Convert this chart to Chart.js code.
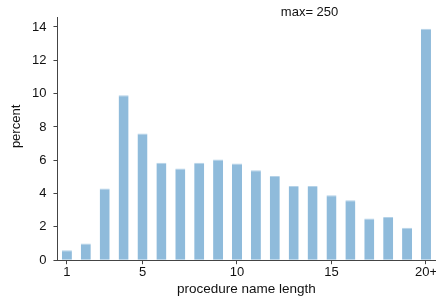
<!DOCTYPE html>
<html>
<head>
<meta charset="utf-8">
<script src="https://cdn.jsdelivr.net/npm/chart.js@4"></script>
<style>
  html, body { margin: 0; padding: 0; background: #fff; overflow: hidden; }
  #wrap { width: 437px; height: 300px; }
</style>
</head>
<body>
<div id="wrap"><canvas id="chart"></canvas></div>
<script>
const categories = ["1","2","3","4","5","6","7","8","9","10","11","12","13","14","15","16","17","18","19","20+"];
const percentValues = [0.6, 1.0, 4.3, 9.9, 7.6, 5.85, 5.5, 5.85, 6.05, 5.8, 5.4, 5.05, 4.45, 4.45, 3.9, 3.6, 2.5, 2.6, 1.95, 13.9];
const xTickLabels = ["1", "5", "10", "15", "20+"];
const yTickValues = [0, 2, 4, 6, 8, 10, 12, 14];
const noteText = "max= 250";
const yTitle = "percent";

const axisColor = "#444";
const fontFamily = "'Liberation Sans', Arial, sans-serif";
const font = { family: fontFamily, size: 13 };

// note above the plot and the y title (sits a bit above the axis middle in the original)
const textPlugin = {
  id: "texts",
  afterDraw(chart) {
    const ctx = chart.ctx;
    const a = chart.chartArea;
    ctx.save();
    ctx.font = "13px " + fontFamily;
    ctx.fillStyle = "#111";
    ctx.textAlign = "center";
    ctx.textBaseline = "middle";
    ctx.fillText(noteText, a.left + (a.right - a.left) * 0.667, 12);
    ctx.translate(16, a.top + (a.bottom - a.top) * 0.45);
    ctx.rotate(-Math.PI / 2);
    ctx.fillText(yTitle, 0, 0);
    ctx.restore();
  }
};

new Chart(document.getElementById("chart"), {
  type: "bar",
  data: {
    labels: categories,
    datasets: [{
      data: percentValues,
      backgroundColor: "#8fbbdb",
      borderColor: "#b4d2e8",
      borderWidth: { top: 1, left: 0, right: 0, bottom: 0 },
      borderSkipped: "bottom",
      barPercentage: 0.53,
      categoryPercentage: 1.0
    }]
  },
  options: {
    responsive: true,
    maintainAspectRatio: false,
    animation: false,
    layout: { padding: { top: 17, left: 25, right: 0, bottom: 3 } },
    plugins: {
      legend: { display: false },
      tooltip: { enabled: false }
    },
    scales: {
      x: {
        offset: true,
        grid: { display: true, drawOnChartArea: false, drawTicks: true, tickLength: 4, offset: false, color: axisColor },
        border: { display: true, color: axisColor, width: 1 },
        afterBuildTicks: scale => {
          scale.ticks = scale.ticks.filter(t => xTickLabels.includes(categories[t.value]));
        },
        ticks: { autoSkip: false, maxRotation: 0, color: "#111", font: font, padding: 0 },
        title: { display: true, text: "procedure name length", color: "#111", font: { family: fontFamily, size: 13.5 }, padding: { top: 1, bottom: 0 } }
      },
      y: {
        min: 0,
        max: 14.6,
        grid: { display: true, drawOnChartArea: false, drawTicks: true, tickLength: 4, color: axisColor },
        border: { display: true, color: axisColor, width: 1 },
        afterBuildTicks: scale => {
          scale.ticks = yTickValues.map(v => ({ value: v }));
        },
        ticks: { color: "#111", font: font, padding: 7 },
        title: { display: false }
      }
    }
  },
  plugins: [textPlugin]
});
</script>
</body>
</html>
